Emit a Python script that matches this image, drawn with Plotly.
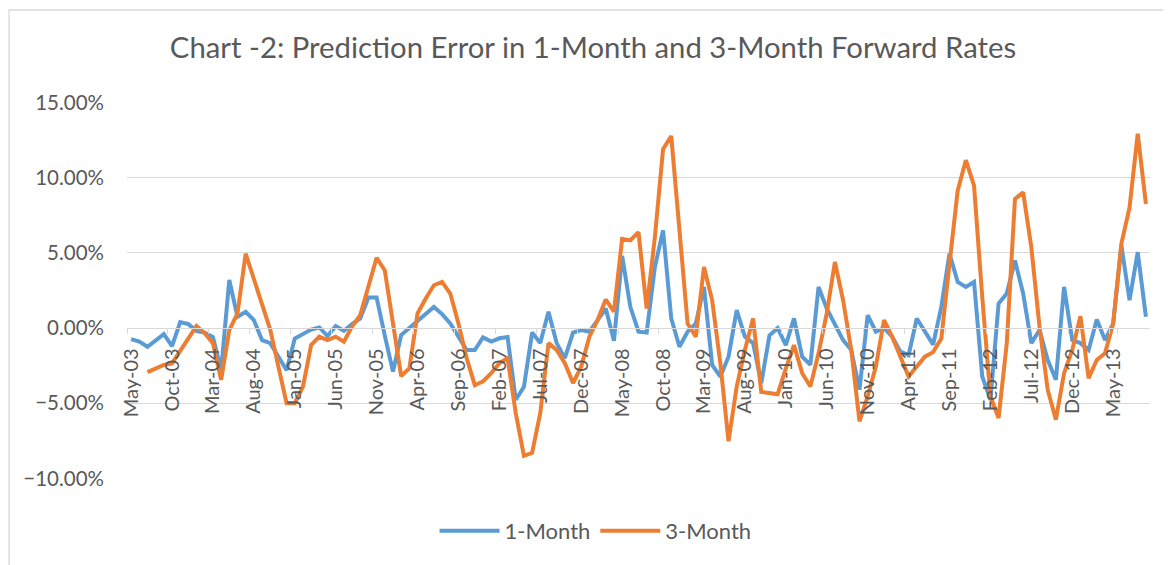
import pandas as pd
import plotly.graph_objects as go

# Monthly categories May-03 .. Sep-13
months = pd.date_range("2003-05-01", periods=125, freq="MS").strftime("%b-%y").tolist()

# Prediction error (%), 1-month forward rate
one_month = [
    -0.73, -0.9, -1.24, -0.8, -0.4, -1.2, 0.4, 0.26, -0.2, -0.3,
    -0.6, -2.8, 3.2, 0.75, 1.08, 0.53, -0.8, -1.0, -1.9, -2.8,
    -0.7, -0.4, -0.1, 0.04, -0.53, 0.13, -0.18, 0.26, 0.64, 2.03,
    2.03, -0.5, -2.9, -0.46, 0.0, 0.53, 0.93, 1.41, 0.93, 0.31,
    -0.57, -1.46, -1.46, -0.62, -0.9, -0.68, -0.6, -4.77, -3.9, -0.3,
    -1.0, 1.08, -1.0, -2.0, -0.3, -0.13, -0.24, 0.53, 1.3, -0.85,
    4.8, 1.41, -0.24, -0.3, 4.06, 6.5, 0.64, -1.24, -0.24, 0.3,
    2.74, -2.45, -3.22, -1.9, 1.2, -0.57, -1.0, -3.66, -0.5, 0.0,
    -1.13, 0.64, -1.9, -2.45, 2.74, 1.3, 0.3, -0.8, -1.46, -4.1,
    0.86, -0.24, 0.0, -0.57, -1.57, -1.8, 0.64, -0.25, -1.1, 1.41,
    4.95, 3.07, 2.74, 3.07, -3.22, -4.77, 1.63, 2.3, 4.5, 2.3,
    -1.0, -0.13, -2.12, -3.44, 2.74, -0.8, -1.0, -1.46, 0.57, -0.8,
    0.3, 5.5, 1.85, 5.05, 0.75,
]

# Prediction error (%), 3-month forward rate (starts Jul-03)
three_month = [
    None, None, -2.93, -2.7, -2.45, -2.35, -1.46, -0.68, 0.13, -0.35,
    -1.0, -3.45, -0.13, 0.97, 4.95, 3.2, 1.6, -0.1, -2.56, -5.0,
    -5.0, -3.9, -1.13, -0.57, -0.8, -0.57, -0.9, 0.1, 0.86, 2.74,
    4.68, 3.84, 0.3, -3.2, -2.67, 0.97, 1.97, 2.85, 3.07, 2.3,
    0.3, -2.0, -3.8, -3.55, -3.0, -2.34, -2.0, -5.65, -8.5, -8.3,
    -5.65, -1.0, -1.46, -2.34, -3.66, -2.56, -0.57, 0.53, 1.9, 1.1,
    5.94, 5.83, 6.38, 1.3, 6.05, 11.9, 12.78, 6.27, 0.3, -0.57,
    4.06, 1.85, -2.34, -7.53, -3.89, -1.46, 0.64, -4.25, -4.35, -4.4,
    -2.7, -1.13, -3.0, -3.89, -1.68, 0.97, 4.4, 1.85, -1.46, -6.2,
    -4.55, -2.56, 0.53, -0.57, -1.9, -3.22, -2.56, -1.9, -1.6, -0.7,
    4.28, 9.14, 11.17, 9.47, 2.07, -4.55, -5.98, -1.0, 8.59, 9.03,
    5.38, 0.09, -4.1, -6.1, -3.0, -1.46, 0.79, -3.33, -2.12, -1.68,
    0.3, 5.6, 8.03, 12.93, 8.26,
]

series_names = ["1-Month", "3-Month"]
series_colors = ["#5B9BD5", "#ED7D31"]
title_text = "Chart -2: Prediction Error in 1-Month and 3-Month Forward Rates"

FONT = "Lato"
GREY = "#595959"
GRID = "#D9D9D9"

fig = go.Figure()
for name, vals, col in zip(series_names, [one_month, three_month], series_colors):
    fig.add_trace(go.Scatter(
        x=months,
        y=[None if v is None else v / 100 for v in vals],
        mode="lines",
        name=name,
        line=dict(color=col, width=4, shape="linear"),
        connectgaps=False,
    ))

# page body has an 8px margin, so the figure is 8px smaller than the window
fig.update_layout(
    width=1163, height=557,
    margin=dict(l=119, r=21, t=94, b=86),
    paper_bgcolor="white", plot_bgcolor="white",
    font=dict(family=FONT, color=GREY, size=18),
    title=dict(text=title_text, x=0.503, xanchor="center", y=0.928, yanchor="middle",
               font=dict(family=FONT, size=29.3, color=GREY)),
    legend=dict(orientation="h", x=0.458, xanchor="center", y=-0.138, yanchor="middle",
                font=dict(family=FONT, size=22, color=GREY), itemwidth=60,
                bgcolor="rgba(0,0,0,0)"),
    showlegend=True,
)

fig.update_yaxes(
    range=[-0.1004, 0.1504], tickvals=[-0.10, -0.05, 0.0, 0.05, 0.10, 0.15],
    tickformat=".2%", showgrid=True, gridcolor=GRID, gridwidth=1.3,
    zeroline=False, showline=False, ticks="", ticklabelstandoff=22,
    tickfont=dict(family=FONT, size=20.5, color=GREY),
)

fig.update_xaxes(
    type="category", range=[-0.5, len(months) - 0.5],
    tickvals=months[::5], ticktext=months[::5],
    tickson="boundaries", tickangle=-90,
    ticks="outside", ticklen=5, tickcolor=GRID, tickwidth=1.3,
    showgrid=False, showline=True, linecolor=GRID, linewidth=1.3,
    anchor="free", position=0.4, ticklabelstandoff=11,
    tickfont=dict(family=FONT, size=20, color=GREY),
)

# chart border (extends beyond the visible window on the right/bottom)
fig.add_shape(type="rect", xref="paper", yref="paper",
              x0=-0.1153, x1=1.06, y0=-0.4, y1=1.244,
              line=dict(color=GRID, width=1.3), fillcolor="rgba(0,0,0,0)", layer="below")

fig.write_html("out.html")
